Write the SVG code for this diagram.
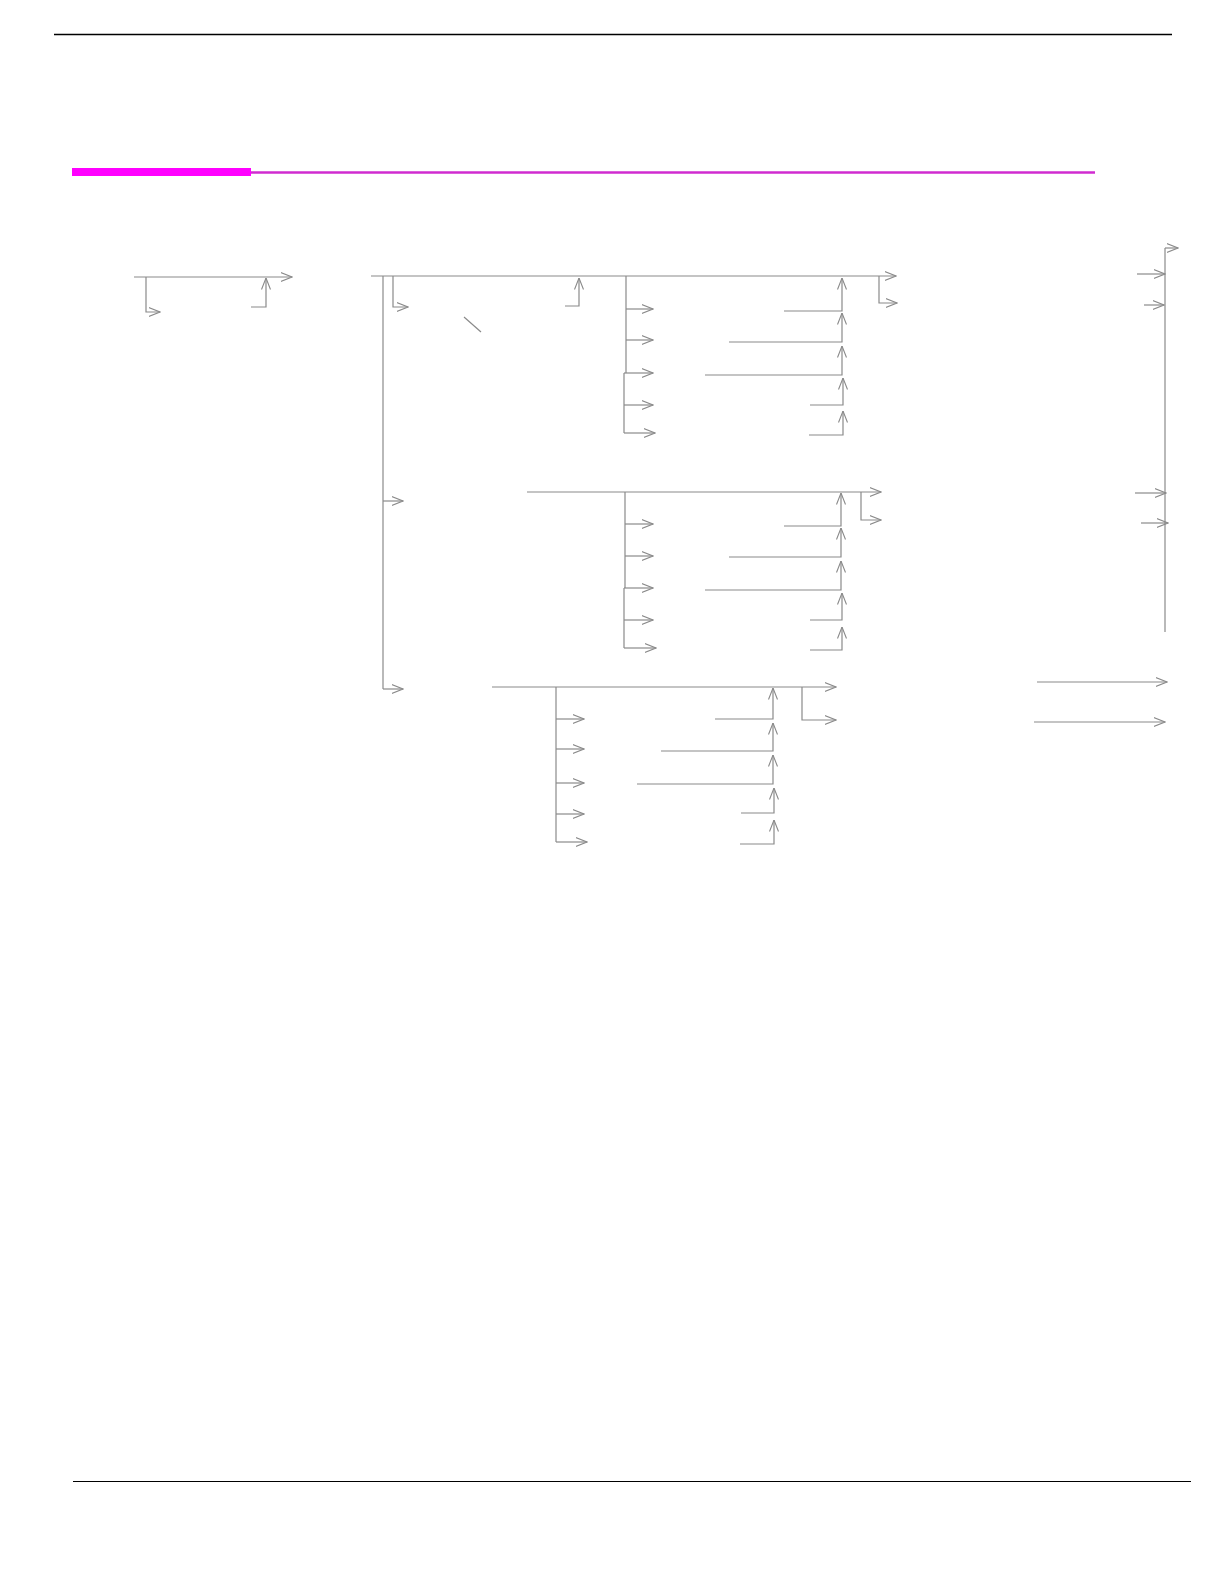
<svg xmlns="http://www.w3.org/2000/svg" width="1224" height="1582" viewBox="0 0 1224 1582">
<style>
.c{fill:none;stroke:#8a8a8a;stroke-width:1.2}
.a{marker-end:url(#ah)}
</style>
<defs>
<marker id="ah" viewBox="0 0 12 10" refX="11.5" refY="5" markerWidth="12" markerHeight="10" markerUnits="userSpaceOnUse" orient="auto">
<path d="M0,0.5 L11.5,5 L0,9.5" fill="none" stroke="#8a8a8a" stroke-width="1.1"/>
</marker>
</defs>
<rect width="1224" height="1582" fill="#ffffff"/>
<g id="page-rules">
<line x1="54" y1="34.5" x2="1172" y2="34.5" stroke="#000" stroke-width="1.4"/>
<line x1="73" y1="1481.5" x2="1191" y2="1481.5" stroke="#000" stroke-width="1"/>
<rect x="72" y="168" width="179" height="8" fill="#ff00ff"/>
<line x1="251" y1="172.5" x2="1095" y2="172.5" stroke="#d02bd0" stroke-width="2.6"/>
</g>
<g id="connectors">
<g id="block0">
<path class="c a" d="M134,277 H292"/>
<path class="c a" d="M146,277 V312 H160"/>
<path class="c a" d="M251,307 H266 V278"/>
</g>
<g id="block1">
<path class="c a" d="M371,276 H896"/>
<path class="c" d="M383,276 V689"/>
<path class="c a" d="M383,501 H403"/>
<path class="c a" d="M383,689 H403"/>
<path class="c a" d="M393,276 V307 H408"/>
<path class="c" d="M464,317 L481,332"/>
<path class="c a" d="M565,306 H579 V278"/>
<path class="c" d="M626,276 V373 M624,373 V433"/>
<path class="c a" d="M626,309 H653"/>
<path class="c a" d="M626,340 H653"/>
<path class="c a" d="M624,373 H653"/>
<path class="c a" d="M624,405 H653"/>
<path class="c a" d="M624,433 H655"/>
<path class="c a" d="M784,311 H842 V278"/>
<path class="c a" d="M729,342 H842 V313"/>
<path class="c a" d="M705,375 H842 V346"/>
<path class="c a" d="M810,405 H843 V378"/>
<path class="c a" d="M809,435 H843 V411"/>
<path class="c a" d="M879,276 V303 H897"/>
</g>
<g id="block2">
<path class="c a" d="M527,492 H881"/>
<path class="c" d="M625,492 V588 M624,588 V648"/>
<path class="c a" d="M625,524 H653"/>
<path class="c a" d="M625,556 H653"/>
<path class="c a" d="M624,588 H653"/>
<path class="c a" d="M624,620 H653"/>
<path class="c a" d="M624,648 H656"/>
<path class="c a" d="M784,526 H841 V493"/>
<path class="c a" d="M729,557 H841 V528"/>
<path class="c a" d="M705,590 H841 V561"/>
<path class="c a" d="M810,620 H842 V593"/>
<path class="c a" d="M810,650 H842 V627"/>
<path class="c a" d="M861,492 V520 H881"/>
</g>
<g id="block3">
<path class="c a" d="M492,687 H836"/>
<path class="c" d="M556,687 V842"/>
<path class="c a" d="M556,719 H584"/>
<path class="c a" d="M556,749 H584"/>
<path class="c a" d="M556,783 H584"/>
<path class="c a" d="M556,814 H584"/>
<path class="c a" d="M556,842 H587"/>
<path class="c a" d="M715,719 H773 V688"/>
<path class="c a" d="M661,751 H773 V723"/>
<path class="c a" d="M637,784 H773 V755"/>
<path class="c a" d="M741,813 H774 V788"/>
<path class="c a" d="M740,844 H774 V820"/>
<path class="c a" d="M802,687 V720 H836"/>
</g>
<g id="right-bus">
<path class="c" d="M1165,248 V632"/>
<path class="c a" d="M1165,248 H1178"/>
<path class="c a" d="M1137,274 H1165"/>
<path class="c a" d="M1144,305 H1164"/>
<path class="c a" d="M1135,493 H1166"/>
<path class="c a" d="M1141,523 H1168"/>
<path class="c a" d="M1037,682 H1167"/>
<path class="c a" d="M1034,722 H1165"/>
</g>
</g>
</svg>
